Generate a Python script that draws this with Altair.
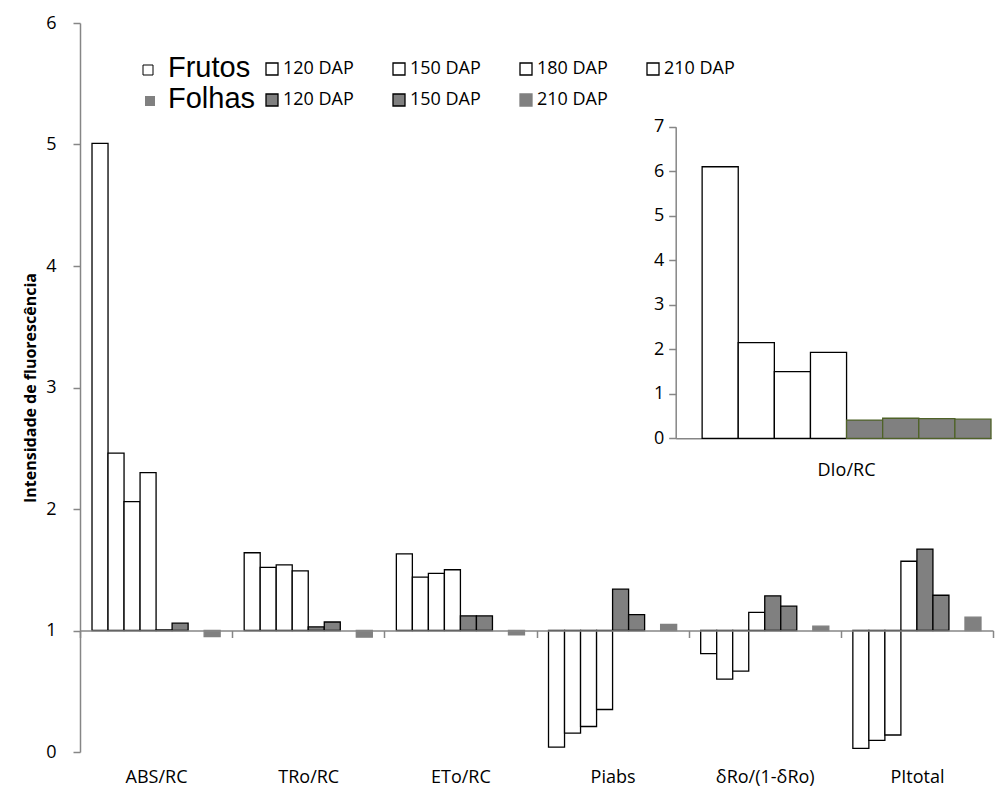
import altair as alt
import pandas as pd

# ---------------- data ----------------
categories = ["ABS/RC", "TRo/RC", "ETo/RC", "Piabs", "δRo/(1-δRo)", "PItotal"]
frutos_120 = [5.01, 1.64, 1.63, 0.04, 0.81, 0.03]
frutos_150 = [2.46, 1.52, 1.44, 0.155, 0.60, 0.095]
frutos_180 = [2.06, 1.54, 1.47, 0.21, 0.665, 0.14]
frutos_210 = [2.30, 1.49, 1.50, 0.35, 1.15, 1.57]
folhas_120 = [1.005, 1.03, 1.12, 1.34, 1.285, 1.67]
folhas_150 = [1.06, 1.07, 1.12, 1.13, 1.20, 1.29]
folhas_210 = [0.95, 0.945, 0.965, 1.05, 1.036, 1.11]

frutos_daps = ["120 DAP", "150 DAP", "180 DAP", "210 DAP"]
folhas_daps = ["120 DAP", "150 DAP", "210 DAP"]
series_order = ["Frutos 120 DAP", "Frutos 150 DAP", "Frutos 180 DAP", "Frutos 210 DAP",
                "Folhas 120 DAP", "Folhas 150 DAP", "Folhas 180 DAP", "Folhas 210 DAP"]

inset_category = "DIo/RC"
inset_frutos = [6.10, 2.15, 1.50, 1.93]
inset_folhas = [0.41, 0.45, 0.44, 0.43]
inset_folhas_daps = ["120 DAP", "150 DAP", "180 DAP", "210 DAP"]

headers = ["Frutos", "Folhas"]

# ---------------- tables ----------------
rows = []
for organ, daps, vals_list in [("Frutos", frutos_daps, [frutos_120, frutos_150, frutos_180, frutos_210]),
                               ("Folhas", folhas_daps, [folhas_120, folhas_150, folhas_210])]:
    for dap, vals in zip(daps, vals_list):
        for c, v in zip(categories, vals):
            rows.append({"cat": c, "organ": organ, "dap": dap, "series": f"{organ} {dap}", "value": v})
df = pd.DataFrame(rows)
df_fr = df[df.organ == "Frutos"]
df_fo = df[df.organ == "Folhas"]

irows = []
for dap, v in zip(frutos_daps, inset_frutos):
    irows.append({"series": f"Frutos {dap}", "organ": "Frutos", "value": v})
for dap, v in zip(inset_folhas_daps, inset_folhas):
    irows.append({"series": f"Folhas {dap}", "organ": "Folhas", "value": v})
dfi = pd.DataFrame(irows)

# ---------------- styling ----------------
W, H = 913, 729
FONT = "Open Sans"
FS = 18
AX = "#868686"
GRAY = "#808080"

x_main = alt.X("cat:N", sort=categories,
               scale=alt.Scale(domain=categories, paddingInner=0, paddingOuter=0),
               axis=alt.Axis(title=None, orient="bottom", offset=-121.5, tickBand="extent",
                             domainColor=AX, tickColor=AX, domainWidth=1.5, tickWidth=1.5,
                             tickSize=7, labelPadding=131, labelFont=FONT, labelFontSize=FS,
                             labelColor="black", labelAngle=0, zindex=1))
xoff = alt.XOffset("series:N", scale=alt.Scale(domain=series_order, paddingInner=0, paddingOuter=0.75))
y_main = alt.Y("value:Q", scale=alt.Scale(domain=[0, 6], nice=False, zero=False),
               axis=alt.Axis(title="Intensidade de fluorescência", values=[0, 1, 2, 3, 4, 5, 6],
                             grid=False, domainColor=AX, tickColor=AX, domainWidth=1.5, tickWidth=1.5,
                             tickSize=7, labelPadding=17, labelFont=FONT, labelFontSize=FS,
                             labelColor="black", titleFont=FONT, titleFontSize=16,
                             titleFontWeight="bold", titleColor="black", titleX=-50,
                             titleBaseline="middle"))

leg_common = dict(orient="none", direction="horizontal", title=None, symbolType="square",
                  symbolSize=144, symbolStrokeWidth=1.3, labelFont=FONT, labelFontSize=FS,
                  labelColor="black", labelOffset=2, columnPadding=36, gridAlign="all",
                  padding=0, labelLimit=200)

main_fr = alt.Chart(df_fr).mark_bar(stroke="black", strokeWidth=1.3).encode(
    x=x_main, xOffset=xoff, y=y_main, y2=alt.Y2Datum(1),
    fill=alt.Fill("dap:N", scale=alt.Scale(domain=frutos_daps, range=["white"] * 4),
                  legend=alt.Legend(legendX=183, legendY=37, columns=4,
                                    symbolStrokeColor="black", **leg_common)),
)

fo_legend = alt.Legend(legendX=183, legendY=68, columns=3, **leg_common)
main_fo = alt.Chart(df_fo).mark_bar(strokeWidth=1.3).encode(
    x=x_main, xOffset=xoff, y=y_main, y2=alt.Y2Datum(1),
    fill=alt.Fill("dap:N", scale=alt.Scale(domain=folhas_daps, range=[GRAY] * 3), legend=fo_legend),
    stroke=alt.Stroke("dap:N", scale=alt.Scale(domain=folhas_daps, range=["black", "black", GRAY]),
                      legend=fo_legend),
)

main = alt.layer(main_fr, main_fo).resolve_scale(fill="independent", stroke="independent")

# ---------------- inset ----------------
x_in = alt.X("series:N", sort=series_order,
             scale=alt.Scale(domain=series_order, range=[595.7, 911], paddingInner=0,
                             paddingOuter=0.366, align=1),
             axis=alt.Axis(orient="bottom", offset=-313.7, labels=False, ticks=False,
                           domainColor=AX, domainWidth=1.5, title=inset_category, titleX=766,
                           titleY=32, titleFont=FONT, titleFontSize=FS, titleFontWeight="normal",
                           titleColor="black", titleBaseline="middle"))
y_in = alt.Y("value:Q", scale=alt.Scale(domain=[0, 7], range=[415.3, 103.7], nice=False, zero=True),
             axis=alt.Axis(orient="left", offset=-595.7, values=list(range(8)), grid=False,
                           domainColor=AX, tickColor=AX, domainWidth=1.5, tickWidth=1.5, tickSize=7,
                           labelPadding=5, labelFont=FONT, labelFontSize=FS, labelColor="black",
                           title=None))

inset_fr = alt.Chart(dfi[dfi.organ == "Frutos"]).mark_bar(fill="white", stroke="black", strokeWidth=1.3).encode(
    x=x_in, y=y_in, y2=alt.Y2Datum(0))
inset_fo = alt.Chart(dfi[dfi.organ == "Folhas"]).mark_bar(fill=GRAY, stroke="#4F6228", strokeWidth=1.3).encode(
    x=x_in, y=y_in, y2=alt.Y2Datum(0))
inset = alt.layer(inset_fr, inset_fo)

# ---------------- legend headers ----------------
HFS = 29
hdr_fr = alt.Chart(pd.DataFrame({"t": [headers[0]]})).mark_text(
    font="Liberation Sans", fontSize=HFS, align="left", baseline="alphabetic", color="black").encode(
    text="t:N", x=alt.value(88), y=alt.value(54))
hdr_fo = alt.Chart(pd.DataFrame({"t": [headers[1]]})).mark_text(
    font="Liberation Sans", fontSize=HFS, align="left", baseline="alphabetic", color="black").encode(
    text="t:N", x=alt.value(88), y=alt.value(85))
sq_fr = alt.Chart(pd.DataFrame({"t": [headers[0]]})).mark_square(
    size=100, fill="white", stroke="black", strokeWidth=1, opacity=1).encode(
    x=alt.value(68), y=alt.value(47))
sq_fo = alt.Chart(pd.DataFrame({"t": [headers[1]]})).mark_square(
    size=100, fill=GRAY, opacity=1).encode(
    x=alt.value(70), y=alt.value(78))

chart = alt.layer(main, inset, hdr_fr, hdr_fo, sq_fr, sq_fo).resolve_scale(
    x="independent", y="independent").resolve_axis(x="independent", y="independent").properties(
    width=W, height=H, padding={"left": 80, "top": 23, "right": 13, "bottom": 41},
    autosize=alt.AutoSizeParams(type="none"), background="white"
).configure_view(stroke=None)

chart.save("out.html", embed_options={"renderer": "svg", "actions": False})
